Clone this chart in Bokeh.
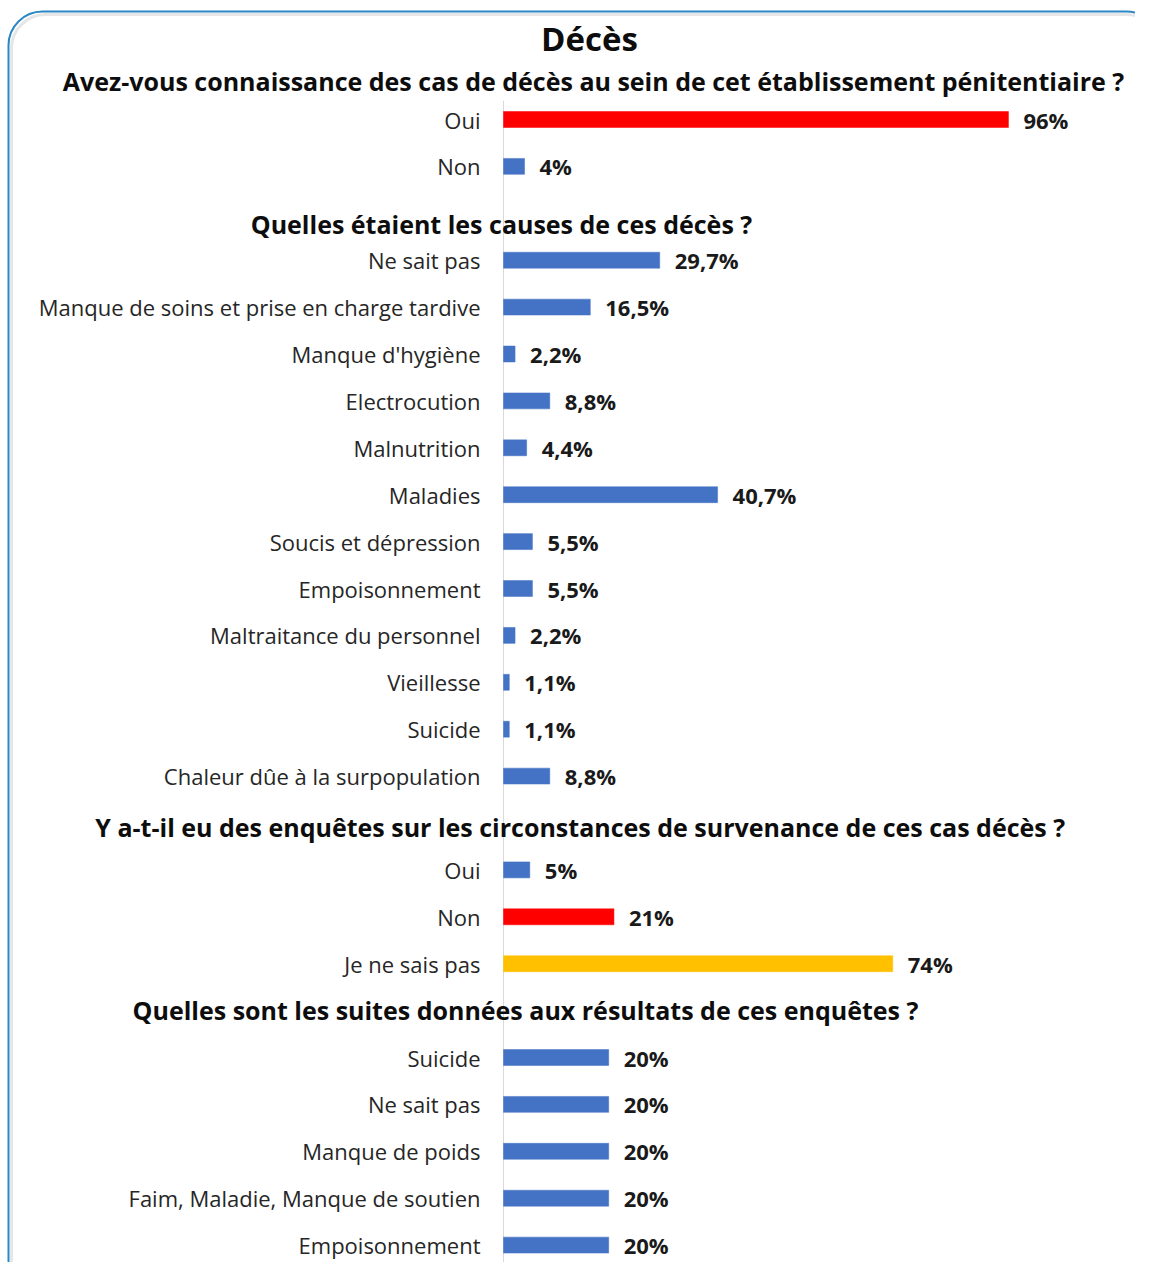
from bokeh.plotting import figure
from bokeh.models import ColumnDataSource, Range1d, BoxAnnotation
from bokeh.core.properties import value
from bokeh.embed import file_html
from bokeh.resources import INLINE

# ---------------- data ----------------
main_title = "Décès"

q1_title = "Avez-vous connaissance des cas de décès au sein de cet établissement pénitentiaire ?"
q1_cats = ["Oui", "Non"]
q1_vals = [96, 4]

q2_title = "Quelles étaient les causes de ces décès ?"
q2_cats = ["Ne sait pas", "Manque de soins et prise en charge tardive", "Manque d'hygiène",
           "Electrocution", "Malnutrition", "Maladies", "Soucis et dépression",
           "Empoisonnement", "Maltraitance du personnel", "Vieillesse", "Suicide",
           "Chaleur dûe à la surpopulation"]
q2_vals = [29.7, 16.5, 2.2, 8.8, 4.4, 40.7, 5.5, 5.5, 2.2, 1.1, 1.1, 8.8]

q3_title = "Y a-t-il eu  des enquêtes sur les circonstances de survenance de ces cas décès ?"
q3_cats = ["Oui", "Non", "Je ne sais pas"]
q3_vals = [5, 21, 74]

q4_title = "Quelles sont les suites données aux résultats de ces enquêtes ?"
q4_cats = ["Suicide", "Ne sait pas", "Manque de poids", "Faim, Maladie, Manque de soutien", "Empoisonnement"]
q4_vals = [20, 20, 20, 20, 20]

# ---------------- styles ----------------
BLUE, RED, GOLD = "#4472C4", "#FF0000", "#FFC000"
q1_colors = [RED, BLUE]
q2_colors = [BLUE] * len(q2_vals)
q3_colors = [BLUE, RED, GOLD]
q4_colors = [BLUE] * len(q4_vals)

def fmt_int(v):
    return f"{v:.0f}%"

def fmt_dec(v):
    return f"{v:.1f}%".replace(".", ",")

sections = [
    (q1_title, q1_cats, q1_vals, q1_colors, fmt_int),
    (q2_title, q2_cats, q2_vals, q2_colors, fmt_dec),
    (q3_title, q3_cats, q3_vals, q3_colors, fmt_int),
    (q4_title, q4_cats, q4_vals, q4_colors, fmt_int),
]

# layout constants (pixels)
W, H = 1135, 1262
PX_PER_UNIT = 5.26          # horizontal pixels per percentage point
ZERO_X = 503                # canvas x of the 0% line
SLOT_PX = 46.9              # vertical pixels per row
FIRST_BAR_Y = 119           # canvas y of the first bar's centre
title_cx_px = [593, 501, 583, 525]     # canvas x of the section title centres
title_dy_px = [8, 11, 4, -1]           # vertical nudge of section titles
FONT = "Open Sans"

x_start = -ZERO_X / PX_PER_UNIT
x_end = (W - ZERO_X) / PX_PER_UNIT
y_top = 1 - FIRST_BAR_Y / SLOT_PX
y_bottom = 1 + (H - FIRST_BAR_Y) / SLOT_PX

bars = dict(y=[], v=[], c=[], cat=[], lab=[])
titles = dict(x=[], y=[], t=[])
slot = 0
for i, (t, cats, vals, cols, fmt) in enumerate(sections):
    titles["x"].append((title_cx_px[i] - ZERO_X) / PX_PER_UNIT)
    titles["y"].append(slot + title_dy_px[i] / SLOT_PX)
    titles["t"].append(t)
    for c, v, col in zip(cats, vals, cols):
        slot += 1
        bars["y"].append(slot)
        bars["v"].append(v)
        bars["c"].append(col)
        bars["cat"].append(c)
        bars["lab"].append(fmt(v))
    slot += 1

src = ColumnDataSource(bars)
tsrc = ColumnDataSource(titles)

p = figure(width=W, height=H, output_backend="svg", toolbar_location=None,
           x_range=Range1d(x_start, x_end), y_range=Range1d(y_bottom, y_top),
           x_axis_location=None, y_axis_location=None, min_border=0)
p.grid.visible = False
p.outline_line_color = None
p.background_fill_color = "white"
p.border_fill_color = "white"

# rounded frame (screen y measured from the bottom of the canvas)
def frame_box(left, top, color, width):
    return BoxAnnotation(left=left, right=1160, top=H - top, bottom=H - 1300,
                         left_units="screen", right_units="screen",
                         top_units="screen", bottom_units="screen",
                         fill_color=None, fill_alpha=0, line_color=color,
                         line_alpha=1.0, line_width=width, border_radius=34)

p.add_layout(frame_box(11, 14, "#E6E6E6", 3))
p.add_layout(frame_box(8, 11, "#2A86C4", 2))

# vertical axis line
p.segment(x0=[0], y0=[bars["y"][0] - 0.4], x1=[0], y1=[y_bottom],
          line_color="#D9D9D9", line_width=1)

p.hbar(y="y", right="v", left=0, height=0.34, fill_color="c", line_color="c",
       line_width=0.5, source=src)

p.text(x=0, y="y", text="cat", source=src, x_offset=-23,
       text_align="right", text_baseline="middle",
       text_font=value(FONT), text_font_size="22px", text_color="#262626")
p.text(x="v", y="y", text="lab", source=src, x_offset=15,
       text_align="left", text_baseline="middle",
       text_font=value(FONT), text_font_size="22px", text_font_style="bold",
       text_color="#1A1A1A")

p.text(x="x", y="y", text="t", source=tsrc, text_align="center",
       text_baseline="middle", text_font=value(FONT), text_font_size="25px",
       text_font_style="bold", text_color="#0D0D0D")
p.text(x=[(589 - ZERO_X) / PX_PER_UNIT], y=[1 + (38 - FIRST_BAR_Y) / SLOT_PX],
       text=[main_title], text_align="center", text_baseline="middle",
       text_font=value(FONT), text_font_size="33px", text_font_style="bold",
       text_color="#0D0D0D")

open("out.html", "w").write(file_html(p, INLINE))
